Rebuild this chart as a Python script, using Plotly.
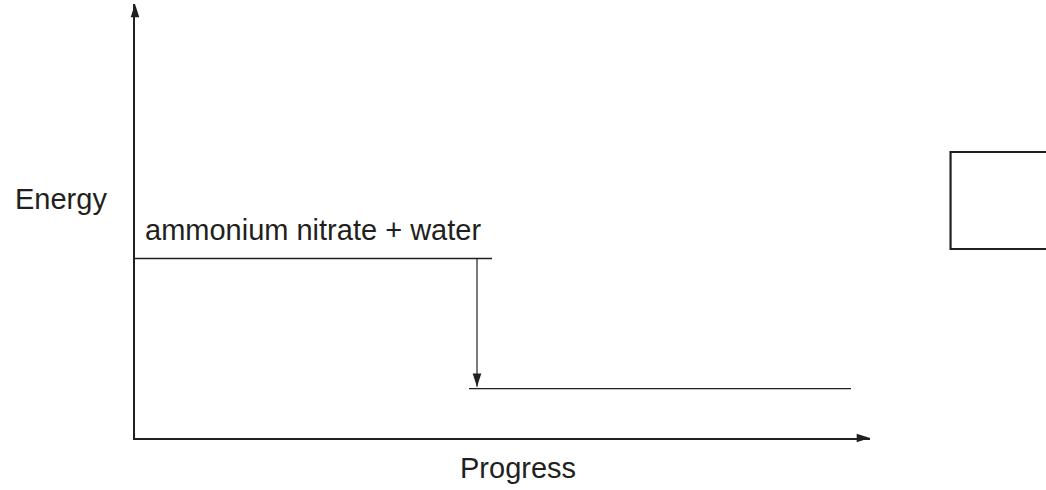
import plotly.graph_objects as go

# ---- data (arbitrary energy / progress units) ----
progress_max = 735
energy_max = 434
reactant_progress = [0, 357]
reactant_energy = [179.5, 179.5]
product_progress = [334, 716]
product_energy = [49.3, 49.3]
change_progress = 342
reactant_label = "ammonium nitrate + water"
x_title = "Progress"
y_title = "Energy"

INK = "#231f20"
FONT = "Liberation Sans, Arial, sans-serif"

fig = go.Figure()

# energy levels
fig.add_trace(go.Scatter(x=reactant_progress, y=reactant_energy, mode="lines",
                         line=dict(color=INK, width=1.3), hoverinfo="skip", showlegend=False))
fig.add_trace(go.Scatter(x=product_progress, y=product_energy, mode="lines",
                         line=dict(color=INK, width=1.3), hoverinfo="skip", showlegend=False))

# energy change arrow (shaft)
fig.add_trace(go.Scatter(x=[change_progress, change_progress],
                         y=[reactant_energy[0], product_energy[0] + 2],
                         mode="lines", line=dict(color=INK, width=1.2),
                         hoverinfo="skip", showlegend=False))

# arrow heads: axis tips and energy change tip
fig.add_trace(go.Scatter(
    x=[0, progress_max, change_progress],
    y=[energy_max, 0, product_energy[0] + 2],
    mode="markers",
    marker=dict(symbol="arrow", size=14, angle=[0, 90, 180], color=INK,
                line=dict(width=0)),
    cliponaxis=False, hoverinfo="skip", showlegend=False))

# reactant label
fig.add_annotation(x=8, y=208.5, xref="x", yref="y", text=reactant_label,
                   showarrow=False, xanchor="left", yanchor="middle",
                   font=dict(family=FONT, size=29, color=INK))
# axis titles
fig.add_annotation(x=-0.1664, y=0.550, xref="paper", yref="paper", text=y_title,
                   showarrow=False, xanchor="left", yanchor="middle",
                   font=dict(family=FONT, size=29, color=INK))
fig.add_annotation(x=0.521, y=-0.070, xref="paper", yref="paper", text=x_title,
                   showarrow=False, xanchor="center", yanchor="middle",
                   font=dict(family=FONT, size=29, color=INK))

# answer box on the right (runs off the page edge, so no right side drawn)
fig.add_shape(type="path", xref="paper", yref="paper",
              path="M 1.3,0.4355 L 1.1096,0.4355 L 1.1096,0.659 L 1.3,0.659",
              line=dict(color=INK, width=2.2), fillcolor="rgba(0,0,0,0)")

fig.update_xaxes(range=[0, progress_max], showgrid=False, zeroline=False,
                 showticklabels=False, ticks="", showline=True,
                 linecolor=INK, linewidth=2)
fig.update_yaxes(range=[0, energy_max], showgrid=False, zeroline=False,
                 showticklabels=False, ticks="", showline=True,
                 linecolor=INK, linewidth=2)

fig.update_layout(width=1046, height=490,
                  margin=dict(l=135, r=176, t=4, b=52),
                  paper_bgcolor="white", plot_bgcolor="white")

fig.write_html("out.html",
               config={"displayModeBar": False},
               post_script="document.body.style.margin='0';document.body.style.overflow='hidden';")
